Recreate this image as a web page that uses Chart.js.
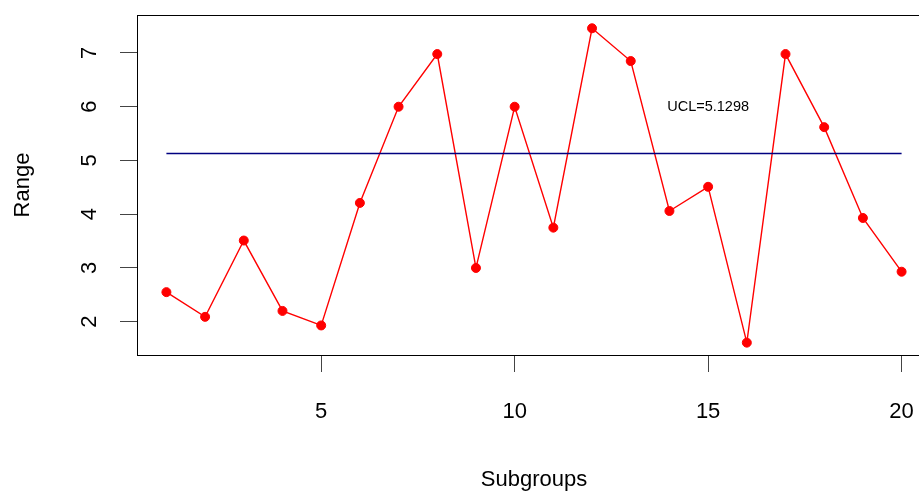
<!DOCTYPE html>
<html>
<head>
<meta charset="utf-8">
<script src="https://cdn.jsdelivr.net/npm/chart.js@4/dist/chart.umd.min.js"></script>
<style>
    html, body { margin: 0; padding: 0; background: #fff; overflow: hidden; }
    #wrap { width: 960px; height: 494px; position: relative; }
</style>
</head>
<body>
<div id="wrap"><canvas id="rChart"></canvas></div>
<script>
        const subgroups = [1, 2, 3, 4, 5, 6, 7, 8, 9, 10, 11, 12, 13, 14, 15, 16, 17, 18, 19, 20];
        const ranges = [2.55, 2.09, 3.51, 2.20, 1.93, 4.21, 6.00, 6.98, 3.00, 6.00,
                        3.75, 7.46, 6.85, 4.06, 4.51, 1.61, 6.98, 5.62, 3.93, 2.93];
        const ucl = 5.1298;
        const uclLabel = 'UCL=5.1298';
        const xTicks = [5, 10, 15, 20];
        const yTicks = [2, 3, 4, 5, 6, 7];

        Chart.defaults.font.family = '"Liberation Sans", Arial, sans-serif';
        Chart.defaults.color = '#000';

        // box round the plot, rotated y labels and the UCL note
        const framePlugin = {
            id: 'frame',
            afterDraw(chart) {
                const { ctx, chartArea: a, scales } = chart;
                ctx.save();
                ctx.strokeStyle = '#000';
                ctx.lineWidth = 1;
                ctx.strokeRect(a.left + 0.5, a.top + 0.5, a.right - a.left, a.bottom - a.top);

                ctx.fillStyle = '#000';
                ctx.font = '22px "Liberation Sans", Arial, sans-serif';
                ctx.textAlign = 'center';
                ctx.textBaseline = 'middle';
                yTicks.forEach(v => {
                    const y = scales.y.getPixelForValue(v);
                    ctx.save();
                    ctx.translate(a.left - 47, y);
                    ctx.rotate(-Math.PI / 2);
                    ctx.fillText(String(v), 0, 0);
                    ctx.restore();
                });

                ctx.font = '14.5px "Liberation Sans", Arial, sans-serif';
                ctx.fillText(uclLabel, scales.x.getPixelForValue(15), scales.y.getPixelForValue(6));
                ctx.restore();
            }
        };

        const config = {
            type: 'line',
            data: {
                datasets: [{
                    label: 'UCL',
                    data: [{ x: subgroups[0], y: ucl }, { x: subgroups[subgroups.length - 1], y: ucl }],
                    borderColor: '#000080',
                    borderWidth: 1.3,
                    pointRadius: 0,
                    fill: false
                }, {
                    label: 'Range',
                    data: subgroups.map((s, i) => ({ x: s, y: ranges[i] })),
                    borderColor: '#ff0000',
                    backgroundColor: '#ff0000',
                    borderWidth: 1.4,
                    pointRadius: 4.5,
                    pointBorderWidth: 1,
                    tension: 0,
                    fill: false
                }]
            },
            options: {
                responsive: true,
                maintainAspectRatio: false,
                animation: false,
                layout: { padding: { top: 15, right: 29, left: 0, bottom: 0 } },
                plugins: {
                    legend: { display: false },
                    tooltip: { enabled: false }
                },
                scales: {
                    x: {
                        type: 'linear',
                        min: 0.24,
                        max: 20.76,
                        afterBuildTicks: s => { s.ticks = xTicks.map(v => ({ value: v })); },
                        afterFit: s => { s.height = 139; },
                        ticks: { font: { size: 22 }, padding: 27, maxRotation: 0 },
                        grid: { drawOnChartArea: false, drawTicks: true, tickLength: 17, color: '#444' },
                        border: { display: false },
                        title: { display: true, text: 'Subgroups', font: { size: 22 }, padding: { bottom: 1, top: 0 } }
                    },
                    y: {
                        type: 'linear',
                        min: 1.38,
                        max: 7.707,
                        afterBuildTicks: s => { s.ticks = yTicks.map(v => ({ value: v })); },
                        afterFit: s => { s.width = 137; },
                        ticks: { display: false },
                        grid: { drawOnChartArea: false, drawTicks: true, tickLength: 17, color: '#444' },
                        border: { display: false },
                        title: { display: true, text: 'Range', font: { size: 22 }, padding: { top: 10, bottom: 0 } }
                    }
                }
            },
            plugins: [framePlugin]
        };

        new Chart(document.getElementById('rChart'), config);
</script>
</body>
</html>
